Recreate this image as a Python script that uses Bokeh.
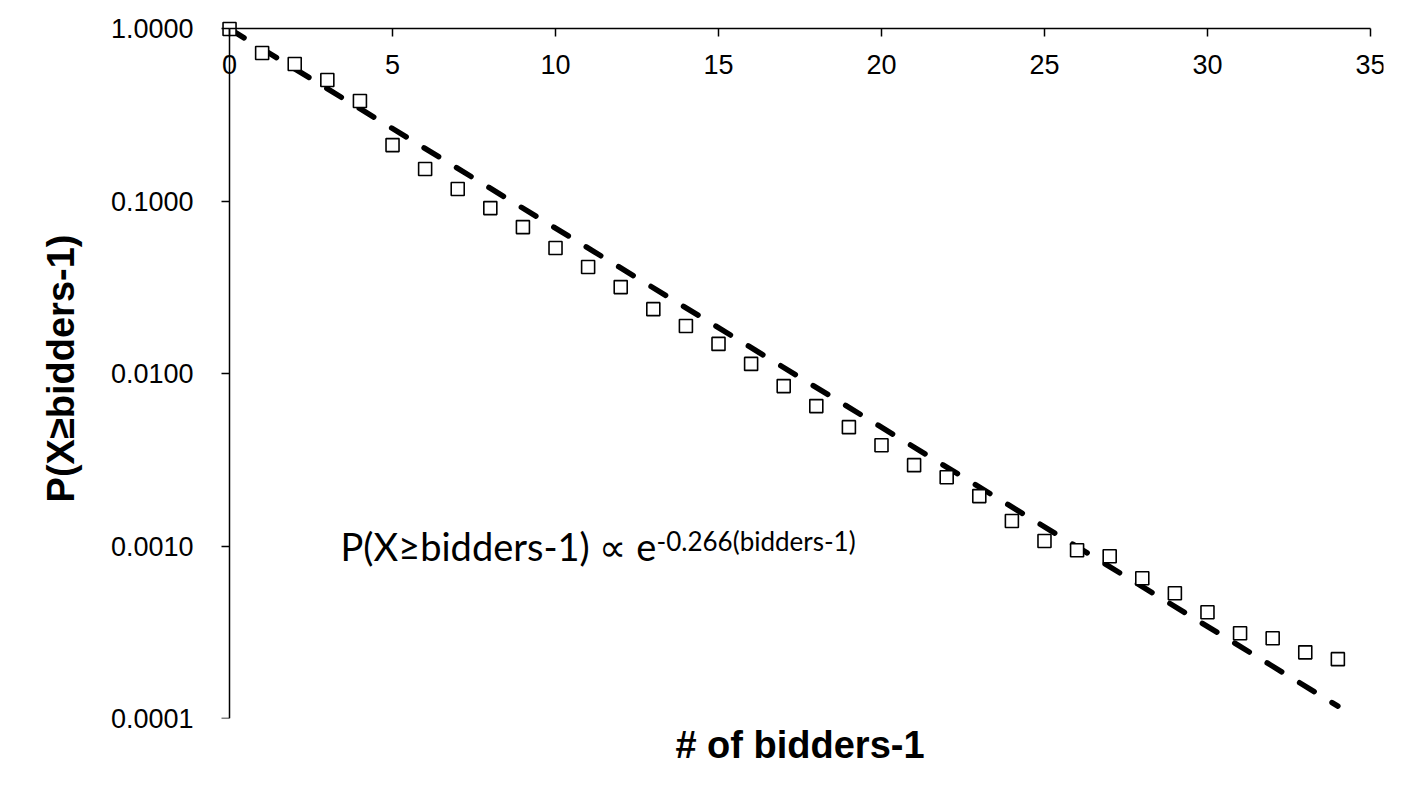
from bokeh.plotting import figure
from bokeh.models import (LinearAxis, LogAxis, FixedTicker, PrintfTickFormatter,
                          Range1d, Label, ColumnDataSource)
from bokeh.embed import file_html
from bokeh.resources import INLINE

# ---- data ----
bidders_minus_1 = list(range(0, 35))
p_ge = [1.0, 0.726, 0.626, 0.506, 0.382, 0.212, 0.154, 0.118, 0.0914, 0.0709,
        0.0536, 0.0416, 0.0318, 0.0237, 0.0189, 0.0149, 0.0114, 0.00848, 0.00649, 0.00490,
        0.00385, 0.00295, 0.00251, 0.00195, 0.00140, 0.00107, 0.000947, 0.000873, 0.000651, 0.000533,
        0.000413, 0.000312, 0.000292, 0.000242, 0.000221]
fit_x = [0, 34]
fit_y = [1.0, 0.000118]
x_ticks = [0, 5, 10, 15, 20, 25, 30, 35]
y_ticks = [0.0001, 0.001, 0.01, 0.1, 1.0]

FONT = "Liberation Sans"

p = figure(frame_width=1167, frame_height=700,
           x_range=Range1d(-0.4, 35.4), y_range=Range1d(0.0001, 1.15),
           y_axis_type="log", x_axis_location="above",
           output_backend="svg", toolbar_location=None,
           min_border_left=216, min_border_top=18,
           min_border_right=25, min_border_bottom=72)
p.outline_line_color = None
p.xgrid.visible = False
p.ygrid.visible = False
p.background_fill_color = "white"

# x axis (top, crossing at y = 1)
xa = p.xaxis[0]
xa.fixed_location = 1.0
xa.bounds = (0, 35)
xa.ticker = FixedTicker(ticks=x_ticks)
xa.major_tick_in = 8
xa.major_tick_out = 0
xa.minor_tick_in = 0
xa.minor_tick_out = 0
xa.axis_line_width = 1.5
xa.major_tick_line_width = 1.5
xa.major_label_standoff = -45
xa.major_label_text_font = FONT
xa.major_label_text_font_size = "27px"
xa.major_label_text_color = "black"
xa.axis_line_color = "black"
xa.major_tick_line_color = "black"

# y axis labels + title (at frame edge, no line / ticks)
ya = p.yaxis[0]
ya.ticker = FixedTicker(ticks=y_ticks)
ya.formatter = PrintfTickFormatter(format="%.4f")
ya.axis_line_color = None
ya.major_tick_in = 0
ya.major_tick_out = 0
ya.minor_tick_in = 0
ya.minor_tick_out = 0
ya.major_label_standoff = 23
ya.major_label_text_font = FONT
ya.major_label_text_font_size = "27px"
ya.major_label_text_color = "black"
ya.axis_label = "P(X≥bidders-1)"
ya.axis_label_text_font = FONT
ya.axis_label_text_font_style = "bold"
ya.axis_label_text_font_size = "38px"
ya.axis_label_text_color = "black"
ya.axis_label_standoff = 26

# y axis line + ticks crossing at x = 0
yline = LogAxis(fixed_location=0, bounds=(0.0001, 1.0),
                ticker=FixedTicker(ticks=y_ticks),
                formatter=PrintfTickFormatter(format=""),
                major_label_text_font_size="0px", major_label_standoff=0,
                major_tick_in=0, major_tick_out=8, minor_tick_in=0, minor_tick_out=0,
                axis_line_width=1.5, major_tick_line_width=1.5,
                axis_line_color="black", major_tick_line_color="black")
p.add_layout(yline, "left")

# bottom axis carrying only the x title
xb = LinearAxis(ticker=FixedTicker(ticks=[]), axis_line_color=None,
                major_tick_in=0, major_tick_out=0, minor_tick_in=0, minor_tick_out=0,
                axis_label="# of bidders-1", axis_label_text_font=FONT,
                axis_label_text_font_style="bold", axis_label_text_font_size="38px",
                axis_label_text_color="black", axis_label_standoff=5)
p.add_layout(xb, "below")

# fitted exponential (dashed)
p.line(fit_x, fit_y, line_color="black", line_width=5.5, line_dash="17 21",
       line_cap="round")

# data points
src = ColumnDataSource(dict(x=bidders_minus_1, y=p_ge))
p.scatter("x", "y", source=src, marker="square", size=13,
          fill_color="white", line_color="black", line_width=1.6)

# annotation
p.add_layout(Label(x=3.405, y=9.97e-4, text="P(X≥bidders-1) ∝ e",
                   text_font="Lato", text_font_size="38px", text_color="black",
                   text_baseline="alphabetic", text_align="left"))
p.add_layout(Label(x=13.1, y=1.065e-3, text="-0.266(bidders-1)",
                   text_font="Lato", text_font_size="26px", text_color="black",
                   text_baseline="alphabetic", text_align="left"))

open("out.html", "w").write(file_html(p, INLINE))
